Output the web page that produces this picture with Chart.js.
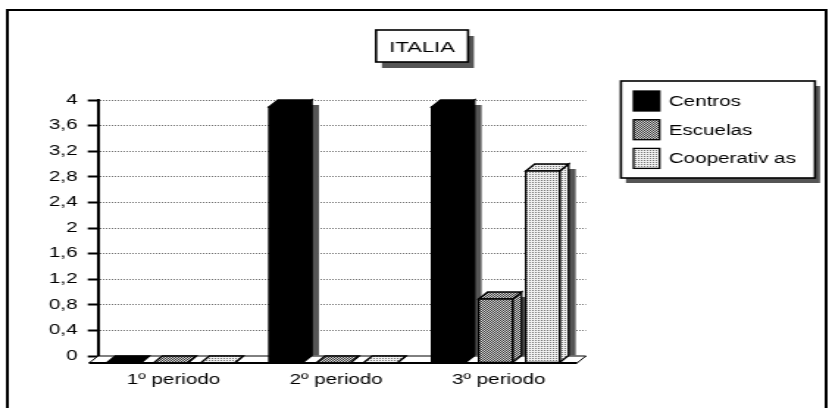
<!DOCTYPE html>
<html>
<head>
<meta charset="utf-8">
<script src="https://cdn.jsdelivr.net/npm/chart.js@4.4.1/dist/chart.umd.min.js"></script>
<style>
  html, body { margin: 0; padding: 0; background: #fff; }
  #chart { display: block; }
</style>
</head>
<body>
<!-- the original picture is a horizontally stretched bitmap, so the canvas is drawn narrow and stretched -->
<canvas id="chart" width="566" height="408" style="width:832px;height:408px"></canvas>
<script>
const TITLE = "ITALIA";
const PERIODS = ["1º periodo", "2º periodo", "3º periodo"];
const SERIES_NAMES = ["Centros", "Escuelas", "Cooperativ as"];
const CENTROS = [0, 4, 4];
const ESCUELAS = [0, 0, 1];
const COOPERATIVAS = [0, 0, 3];
const Y_TICKS = [0, 0.4, 0.8, 1.2, 1.6, 2, 2.4, 2.8, 3.2, 3.6, 4];

const FONT = 'Arial, "Liberation Sans", sans-serif';
const DX = 6.1, DY = 7;   // bar depth
const SX = 4.8, SY = 5;   // drop shadow
const SHADOW = "#555";

const canvas = document.getElementById("chart");
const mainCtx = canvas.getContext("2d");

function makePattern(light, dark, dots) {
  const c = document.createElement("canvas");
  c.width = 2;
  c.height = 2;
  const g = c.getContext("2d");
  g.fillStyle = light;
  g.fillRect(0, 0, 2, 2);
  g.fillStyle = dark;
  dots.forEach(([x, y]) => g.fillRect(x, y, 1, 1));
  return mainCtx.createPattern(c, "repeat");
}

const FACES = [
  "#000",
  makePattern("#d8d8d8", "#3a3a3a", [[0, 0], [1, 1]]),
  makePattern("#f0f0f0", "#777777", [[0, 0]]),
];

function fmt(v) {
  return String(Number(v.toFixed(1))).replace(".", ",");
}

function poly(ctx, pts) {
  ctx.beginPath();
  ctx.moveTo(pts[0][0], pts[0][1]);
  for (let k = 1; k < pts.length; k++) ctx.lineTo(pts[k][0], pts[k][1]);
  ctx.closePath();
}

const depthPlugin = {
  id: "depth3d",
  beforeDatasetsDraw(chart) {
    const { ctx, chartArea: a } = chart;
    const base = chart.scales.y.getPixelForValue(0);
    ctx.save();
    poly(ctx, [[a.left, base], [a.right, base], [a.right - DX, base + DY], [a.left - DX, base + DY]]);
    ctx.fillStyle = "#fff";
    ctx.fill();
    ctx.strokeStyle = "#000";
    ctx.lineWidth = 1;
    ctx.stroke();
    ctx.beginPath();
    ctx.moveTo(a.left - DX, base + DY);
    ctx.lineTo(a.right - DX, base + DY);
    ctx.lineWidth = 2;
    ctx.stroke();
    ctx.restore();
  },
  afterDatasetsDraw(chart) {
    const { ctx } = chart;
    const bars = [];
    for (let j = 0; j < PERIODS.length; j++) {
      chart.data.datasets.forEach((ds, i) => {
        const el = chart.getDatasetMeta(i).data[j];
        const p = el.getProps(["x", "y", "base", "width"], true);
        bars.push({ face: ds.face, l: p.x - p.width / 2 - DX, r: p.x + p.width / 2 - DX, t: p.y + DY, b: p.base + DY, base: p.base, y: p.y });
      });
    }
    ctx.save();
    bars.forEach((s) => {
      if (s.base - s.y < 1) return;
      ctx.fillStyle = SHADOW;
      ctx.fillRect(s.l + DX + SX, s.y + SY, s.r - s.l, s.base - s.y - SY);
    });
    bars.forEach((s) => {
      const front = [[s.l, s.t], [s.r, s.t], [s.r, s.b], [s.l, s.b]];
      const side = [[s.r, s.t], [s.r + DX, s.t - DY], [s.r + DX, s.b - DY], [s.r, s.b]];
      const top = [[s.l, s.t], [s.l + DX, s.t - DY], [s.r + DX, s.t - DY], [s.r, s.t]];
      [side, top, front].forEach((f) => {
        poly(ctx, f);
        ctx.fillStyle = s.face;
        ctx.fill();
        ctx.strokeStyle = "#000";
        ctx.lineWidth = 1.3;
        ctx.stroke();
      });
    });
    ctx.restore();
  },
  afterDraw(chart) {
    const { ctx } = chart;
    ctx.save();
    // outer frame
    ctx.strokeStyle = "#000";
    ctx.lineWidth = 2;
    ctx.strokeRect(5, 10, 557, 420);

    // title box
    const tx = 255.8, ty = 30, tw = 62.6, th = 32;
    ctx.fillStyle = SHADOW;
    ctx.fillRect(tx + 4, ty + 6, tw, th);
    ctx.fillStyle = "#fff";
    ctx.fillRect(tx, ty, tw, th);
    ctx.lineWidth = 1.6;
    ctx.strokeRect(tx, ty, tw, th);
    ctx.fillStyle = "#000";
    ctx.font = "15px " + FONT;
    ctx.textAlign = "center";
    ctx.textBaseline = "middle";
    ctx.fillText(TITLE, tx + tw / 2, ty + 17.5);

    // legend box
    const lx = 422.4, ly = 81, lw = 132, lh = 97;
    ctx.fillStyle = SHADOW;
    ctx.fillRect(lx + 3.4, ly + 5, lw, lh);
    ctx.fillStyle = "#fff";
    ctx.fillRect(lx, ly, lw, lh);
    ctx.lineWidth = 1.6;
    ctx.strokeRect(lx, ly, lw, lh);
    ctx.font = "14px " + FONT;
    ctx.textAlign = "left";
    chart.data.datasets.forEach((ds, i) => {
      const y = 91 + i * 28.7;
      ctx.fillStyle = ds.face;
      ctx.fillRect(431, y, 17.7, 20);
      ctx.lineWidth = 1.3;
      ctx.strokeRect(431, y, 17.7, 20);
      ctx.fillStyle = "#000";
      ctx.fillText(ds.label, 455, y + 11);
    });
    ctx.restore();
  },
};

const SERIES = [CENTROS, ESCUELAS, COOPERATIVAS];

new Chart(canvas, {
  type: "bar",
  data: {
    labels: PERIODS,
    datasets: SERIES.map((values, i) => ({
      label: SERIES_NAMES[i],
      data: values,
      face: FACES[i],
      backgroundColor: "rgba(0,0,0,0)",
      borderWidth: 0,
      categoryPercentage: 0.868,
      barPercentage: 0.72,
    })),
  },
  options: {
    responsive: false,
    animation: false,
    layout: { padding: { left: 0, right: 167.4, top: 100, bottom: 0 } },
    plugins: {
      legend: { display: false },
      title: { display: false },
      tooltip: { enabled: false },
    },
    scales: {
      x: {
        grid: { display: false, drawTicks: false },
        border: { display: false },
        ticks: {
          color: "#000",
          font: { family: FONT, size: 14 },
          padding: 16,
          labelOffset: -4,
          maxRotation: 0,
        },
        afterFit(scale) {
          scale.height = 52;
        },
      },
      y: {
        min: 0,
        max: 4,
        afterBuildTicks(scale) {
          scale.ticks = Y_TICKS.map((v) => ({ value: v }));
        },
        afterFit(scale) {
          scale.width = 66.7;
        },
        grid: {
          color: "#707070",
          lineWidth: 1,
          tickLength: 7,
          tickColor: "#000",
          tickWidth: 2,
        },
        border: { display: true, color: "#000", width: 2, dash: [1, 1] },
        ticks: {
          color: "#000",
          font: { family: FONT, size: 14 },
          padding: 7,
          callback: (v) => fmt(v),
        },
      },
    },
  },
  plugins: [depthPlugin],
});
</script>
</body>
</html>
